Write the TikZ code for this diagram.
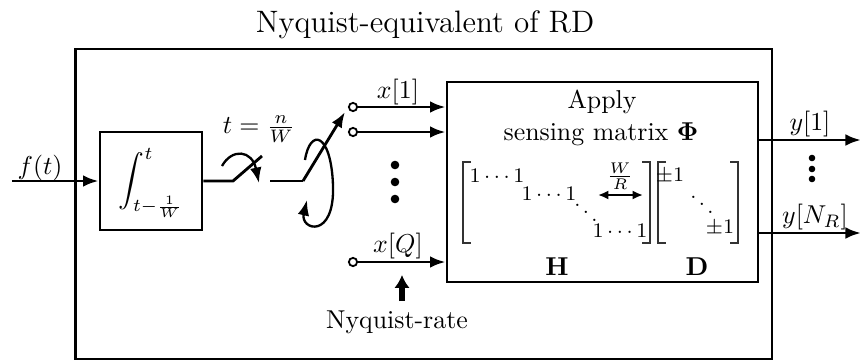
\documentclass[tikz,border=0pt]{standalone}
\usepackage{amsmath}
\usetikzlibrary{arrows.meta}
\begin{document}
\begin{tikzpicture}[x=0.387pt,y=-0.387pt,line width=1.1pt,
  arr/.style={-{Latex[length=6pt,width=4.5pt]}},
  terminal/.style={circle,draw,fill=white,inner sep=0pt,minimum size=3.2pt,line width=0.7pt},
  brk/.style={line width=0.6pt,black!80},
  lbl/.style={inner sep=1pt},
  mtx/.style={inner sep=0pt,font=\footnotesize}]
\useasboundingbox (0,0) rectangle (861,360);
% title and frame
\node[lbl] (title) at (425,25) {\large Nyquist-equivalent of RD};
\node[draw,minimum width={696.5*0.387pt},minimum height={310*0.387pt},inner sep=0pt] (frame) at (423.75,204) {};
% integrator
\node[draw,minimum width={102*0.387pt},minimum height={98*0.387pt},inner sep=0pt] (integ) at (151,181) {};
\node[lbl] (intexpr) at (151,183) {$\displaystyle\int_{t-\frac{1}{W}}^{t}$};
\coordinate (fin) at (12,181);
\draw[arr] (fin) -- (integ.west);
\node[lbl] (flabel) at (40,168) {$f(t)$};
% first switch
\coordinate (s1a) at (233,181);
\coordinate (s1b) at (262,156);
\draw (integ.east) -- (s1a) -- (s1b);
\coordinate (r1s) at (222,166);
\coordinate (r1e) at (259,183);
\draw[arr,line width=0.9pt] (r1s) .. controls (232,148) and (252,150) .. (r1e);
\node[lbl] (tlabel) at (259,129) {$t=\frac{n}{W}$};
% second switch
\coordinate (s2s) at (270,181);
\coordinate (s2a) at (303,181);
\coordinate (s2b) at (345,112);
\draw (s2s) -- (s2a);
\draw[arr] (s2a) -- (s2b);
\coordinate (r2s) at (305,160);
\coordinate (r2m) at (333,185);
\coordinate (r2e) at (307,200);
\draw[line width=0.9pt] (r2s) .. controls (310,128) and (331,132) .. (r2m);
\draw[arr,line width=0.9pt] (r2m) .. controls (335,240) and (300,230) .. (r2e);
% apply box
\node[draw,minimum width={311*0.387pt},minimum height={200*0.387pt},inner sep=0pt] (apply) at (602.5,182) {};
\node[lbl] (applyt) at (602,102) {Apply};
\node[lbl] (sensing) at (601,134) {sensing matrix $\boldsymbol{\Phi}$};
% terminals and inputs
\node[terminal] (t1) at (353,107) {};
\node[terminal] (t2) at (353,132) {};
\node[terminal] (tq) at (353,262) {};
\draw[arr] (t1.east) -- (apply.west |- t1);
\draw[arr] (t2.east) -- (apply.west |- t2);
\draw[arr] (tq.east) -- (apply.west |- tq);
\node[lbl] (x1) at (398,92) {$x[1]$};
\node[lbl] (xq) at (398,246) {$x[Q]$};
\fill (395,165) circle (4.3);
\fill (395,182) circle (4.3);
\fill (395,199) circle (4.3);
% Nyquist-rate
\coordinate (nrs) at (402,301);
\coordinate (nre) at (402,275);
\draw[-{Latex[length=5pt,width=6pt]},line width=2pt] (nrs) -- (nre);
\node[lbl] (nyq) at (397,322) {Nyquist-rate};
% matrix H
\draw[brk] (471,162) -- (463,162) -- (463,243) -- (471,243);
\draw[brk] (642,162) -- (650,162) -- (650,243) -- (642,243);
\node[mtx] (h1) at (497,176) {$1\cdots1$};
\node[mtx] (h2) at (549,194) {$1\cdots1$};
\node[mtx] (h3) at (586,205) {$\ddots$};
\node[mtx] (h4) at (620,231) {$1\cdots1$};
\node[mtx] (wr) at (620,176) {$\frac{W}{R}$};
\coordinate (wra) at (598,195);
\coordinate (wrb) at (643,195);
\draw[{Latex[length=4pt,width=3.5pt]}-{Latex[length=4pt,width=3.5pt]},line width=0.8pt] (wra) -- (wrb);
\node[lbl] (hlab) at (557,267) {$\mathbf{H}$};
% matrix D
\draw[brk] (666,162) -- (658,162) -- (658,243) -- (666,243);
\draw[brk] (730,162) -- (738,162) -- (738,243) -- (730,243);
\node[mtx] (d1) at (670,176) {$\pm1$};
\node[mtx] (d2) at (702,197) {$\ddots$};
\node[mtx] (d3) at (720,228) {$\pm1$};
\node[lbl] (dlab) at (697,267) {$\mathbf{D}$};
% outputs
\coordinate (y1e) at (861,140);
\coordinate (yne) at (861,233);
\draw[arr] (apply.east |- y1e) -- (y1e);
\draw[arr] (apply.east |- yne) -- (yne);
\node[lbl] (y1) at (810,124) {$y[1]$};
\node[lbl] (yn) at (815,217) {$y[N_R]$};
\fill (812,158) circle (3.3);
\fill (812,169) circle (3.3);
\fill (812,179) circle (3.3);
\end{tikzpicture}
\end{document}
